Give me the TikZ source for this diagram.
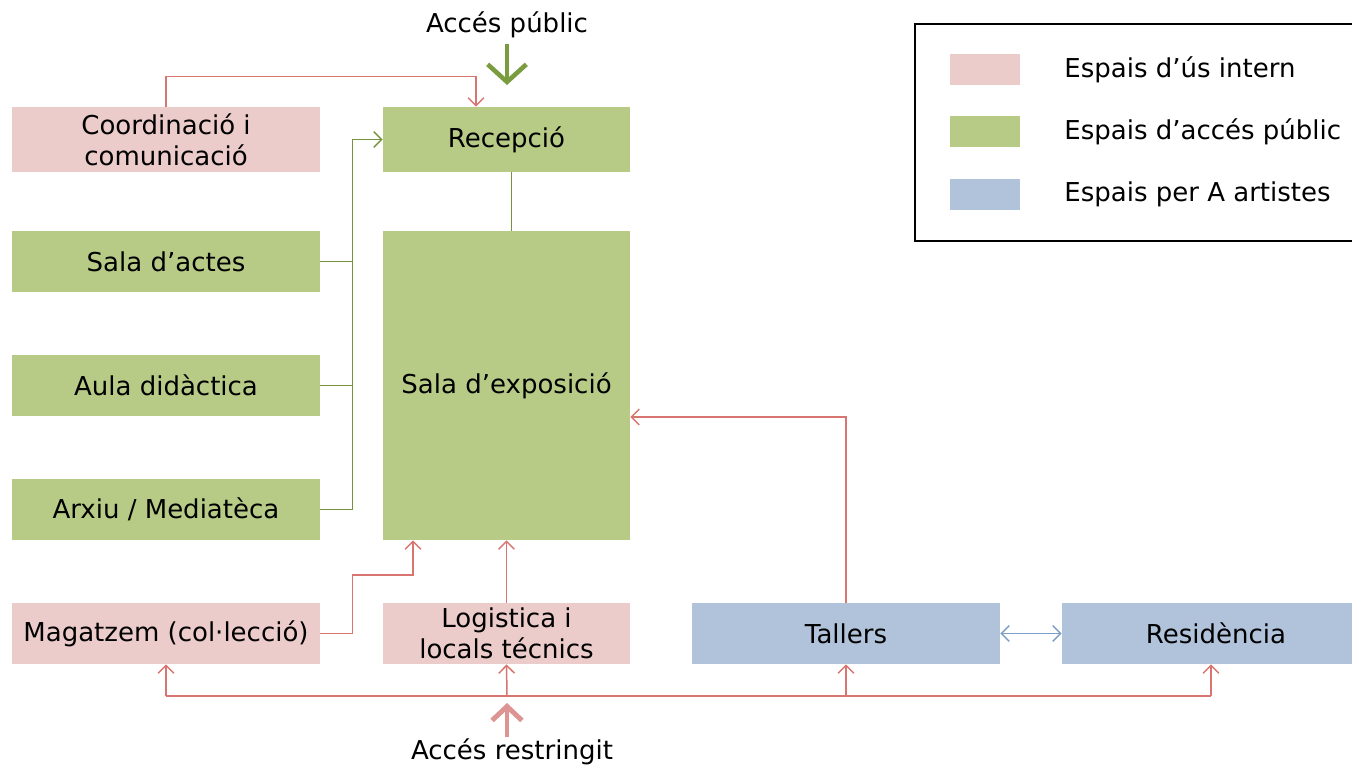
\documentclass[tikz,border=0pt]{standalone}
\usepackage{fontspec}
\setmainfont{DejaVu Sans}
\usepackage{tikz}
\usetikzlibrary{calc}
\usetikzlibrary{shapes}
\usetikzlibrary{arrows.meta}
\definecolor{pinkfill}{RGB}{236,204,203}
\definecolor{greenfill}{RGB}{183,203,135}
\definecolor{bluefill}{RGB}{176,195,219}
\definecolor{pinkline}{RGB}{217,117,112}
\definecolor{greenline}{RGB}{119,147,60}
\definecolor{blueline}{RGB}{126,156,200}
\definecolor{pinkbig}{RGB}{220,149,146}
\definecolor{greenbig}{RGB}{122,156,62}
\tikzset{
  space/.style={shape=rectangle,inner sep=0pt,align=center,font=\fontsize{14.8}{17.6}\selectfont},
  wide/.style={space,minimum width=6.16cm,minimum height=1.22cm},
  mid/.style={space,minimum width=4.94cm,minimum height=1.22cm},
  swatch/.style={shape=rectangle,inner sep=0pt,minimum width=1.4cm,minimum height=0.62cm},
  legtext/.style={anchor=west,inner sep=0pt,font=\fontsize{14.8}{17.6}\selectfont},
  thin/.style={line width=0.85pt,-{Straight Barb[length=4.5pt,width=9pt]}},
  big/.style={line width=2.6pt,-{Straight Barb[length=10pt,width=22pt]}},
  bigsmall/.style={line width=2.8pt,-{Straight Barb[length=8pt,width=17pt]}}
}
\newcommand{\legline}[4]{\node[swatch,fill=#2] (#1s) at (985,#3) {}; \node[legtext] (#1t) at (1064,#3) {#4};}

\begin{document}
\begin{tikzpicture}[x=0.02cm,y=-0.02cm]
        \useasboundingbox (0,0) rectangle (1352,768);
        \clip (0,0) rectangle (1352,768);
        %nodes
        \node[wide,fill=pinkfill,minimum height=1.3cm] (coord) at (166,139.5) {Coordinació i\\comunicació};
        \node[mid,fill=greenfill,minimum height=1.3cm] (recep) at (506.5,139.5) {Recepció};
        \node[wide,fill=greenfill] (actes) at (166,261.5) {Sala d’actes};
        \node[wide,fill=greenfill] (aula) at (166,385.5) {Aula didàctica};
        \node[wide,fill=greenfill] (arxiu) at (166,509.5) {Arxiu / Mediatèca};
        \node[mid,fill=greenfill,minimum height=6.18cm] (expo) at (506.5,385.5) {Sala d’exposició};
        \node[wide,fill=pinkfill] (magat) at (166,633.5) {Magatzem (col·lecció)};
        \node[mid,fill=pinkfill] (logis) at (506.5,633.5) {Logistica i\\locals técnics};
        \node[wide,fill=bluefill] (tallers) at (846,633.5) {Tallers};
        \node[wide,fill=bluefill] (resid) at (1216,633.5) {Residència};
        \node[space] (pub) at (507,25) {Accés públic};
        \node[space] (restr) at (512,752) {Accés restringit};
        \coordinate (pubtip) at (507,85);
        \coordinate (restip) at (507,703);
        \coordinate (busA) at (166,696);
        \coordinate (busB) at (507,696);
        \coordinate (busC) at (846,696);
        \coordinate (busD) at (1211,696);
        %legend
        \draw[black,line width=0.8pt] (915,24) rectangle (1370,241);
        \legline{pink}{pinkfill}{69.5}{Espais d’ús intern}
        \legline{green}{greenfill}{131.5}{Espais d’accés públic}
        \legline{blue}{bluefill}{194.5}{Espais per A artistes}
        %edges
        \draw[greenbig,big] ($(pub.south)+(0,6)$) -- (pubtip);
        \draw[pinkbig,bigsmall] ($(restr.north -| restip)+(0,-2)$) -- (restip);
        \draw[pinkline,thin] (coord.north) |- ($(recep.north)+(-30.5,-30)$) -- ($(recep.north)+(-30.5,0)$);
        \draw[greenline,line width=0.85pt] (actes.east) -- ++(32,0);
        \draw[greenline,line width=0.85pt] (aula.east) -- ++(32,0);
        \draw[greenline,thin] (arxiu.east) -- ++(32,0) |- (recep.west);
        \draw[greenline,line width=0.85pt] ($(recep.south)+(5,0)$) -- ($(expo.north)+(5,0)$);
        \draw[pinkline,thin] (tallers.north) |- ($(expo.east)+(0,31.5)$);
        \draw[pinkline,thin] (magat.east) -- ++(32,0) -- ++(0,-58.5) -| ($(expo.south)+(-93.5,0)$);
        \draw[pinkline,thin] (logis.north) -- (expo.south);
        \draw[blueline,line width=0.85pt,{Straight Barb[length=4.5pt,width=9pt]}-{Straight Barb[length=4.5pt,width=9pt]}] (tallers.east) -- (resid.west);
        \draw[pinkline,line width=0.85pt] (busA) -- (busD);
        \draw[pinkline,thin] (busA) -- (magat.south);
        \draw[pinkline,thin] (busB) -- (logis.south);
        \draw[pinkline,thin] (busC) -- (tallers.south);
        \draw[pinkline,thin] (busD) -- (busD |- resid.south);
\end{tikzpicture}
\end{document}
